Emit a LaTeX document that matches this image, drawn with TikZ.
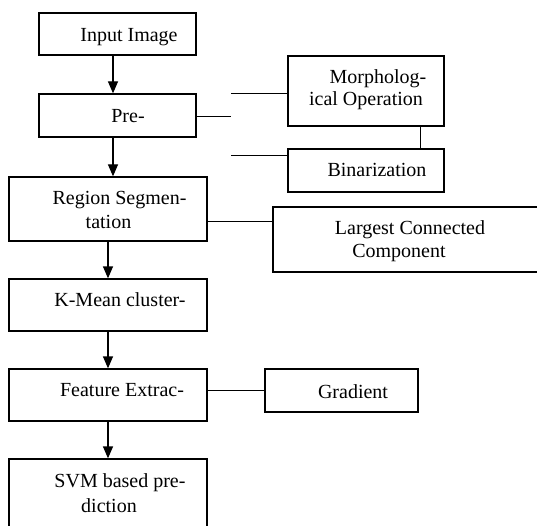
\documentclass[tikz,border=0pt]{standalone}
\usepackage{fontspec}
\setmainfont{Liberation Serif}
\usetikzlibrary{arrows.meta}
\begin{document}
\begin{tikzpicture}[x=1pt,y=-1pt,
  box/.style={draw,line width=1.3pt,inner sep=0pt},
  lbl/.style={anchor=base,inner sep=0pt,font=\fontsize{20}{24}\selectfont},
  flow/.style={line width=1.3pt,-{Triangle[width=10pt,length=12pt]}},
  link/.style={line width=1pt}]
\clip (0,0) rectangle (537,526);
% boxes
\node[box,minimum width=157pt,minimum height=42pt] (input) at (117.5,34) {};
\node[box,minimum width=157pt,minimum height=43pt] (pre) at (117.5,115.5) {};
\node[box,minimum width=156pt,minimum height=70pt] (morph) at (366,91) {};
\node[box,minimum width=156pt,minimum height=43pt] (bin) at (366,170.5) {};
\node[box,minimum width=198pt,minimum height=64pt] (region) at (108,209) {};
\node[box,minimum width=272pt,minimum height=65pt] (lcc) at (409,239.5) {};
\node[box,minimum width=198pt,minimum height=52pt] (kmean) at (108,305) {};
\node[box,minimum width=198pt,minimum height=52pt] (feat) at (108,395) {};
\node[box,minimum width=153pt,minimum height=43pt] (grad) at (341.5,390.5) {};
\node[box,minimum width=198pt,minimum height=81pt] (svm) at (108,499.5) {};
% texts
\node[lbl] (tinput) at (129,42) {Input Image};
\node[lbl] (tpre) at (128,123) {Pre-};
\node[lbl] (tmorph1) at (378,84) {Morpholog-};
\node[lbl] (tmorph2) at (366,106) {ical Operation};
\node[lbl] (tbin) at (377,177) {Binarization};
\node[lbl] (treg1) at (119.5,205) {Region Segmen-};
\node[lbl] (treg2) at (108.5,229) {tation};
\node[lbl] (tlcc1) at (410,235) {Largest Connected};
\node[lbl] (tlcc2) at (399,258) {Component};
\node[lbl] (tkm) at (120,306) {K-Mean cluster-};
\node[lbl] (tfeat) at (122,396) {Feature Extrac-};
\node[lbl] (tgrad) at (353,398) {Gradient};
\node[lbl] (tsvm1) at (120,487) {SVM based pre-};
\node[lbl] (tsvm2) at (109,512) {diction};
% arrows
\draw[flow] ([xshift=-4.5pt]input.south) -- ([xshift=-4.5pt]pre.north);
\draw[flow] ([xshift=-4.5pt]pre.south) -- ([xshift=-4.5pt]pre.south |- region.north);
\draw[flow] (region.south) -- (kmean.north);
\draw[flow] (kmean.south) -- (feat.north);
\draw[flow] (feat.south) -- (svm.north);
% links
\coordinate (stub) at (231,116.5);
\coordinate (mtop) at (231,94);
\coordinate (bbot) at (231,156);
\draw[link] (pre.east |- stub) -- (stub);
\draw[link] (mtop) -- (mtop -| morph.west);
\draw[link] (bbot) -- (bbot -| bin.west);
\draw[link] ([xshift=54pt]morph.south) -- ([xshift=54pt]bin.north);
\draw[link] ([yshift=-13pt]region.east) -- ([yshift=-13pt]region.east -| lcc.west);
\draw[link] (grad.west -| feat.east) -- (grad.west);
\end{tikzpicture}
\end{document}
